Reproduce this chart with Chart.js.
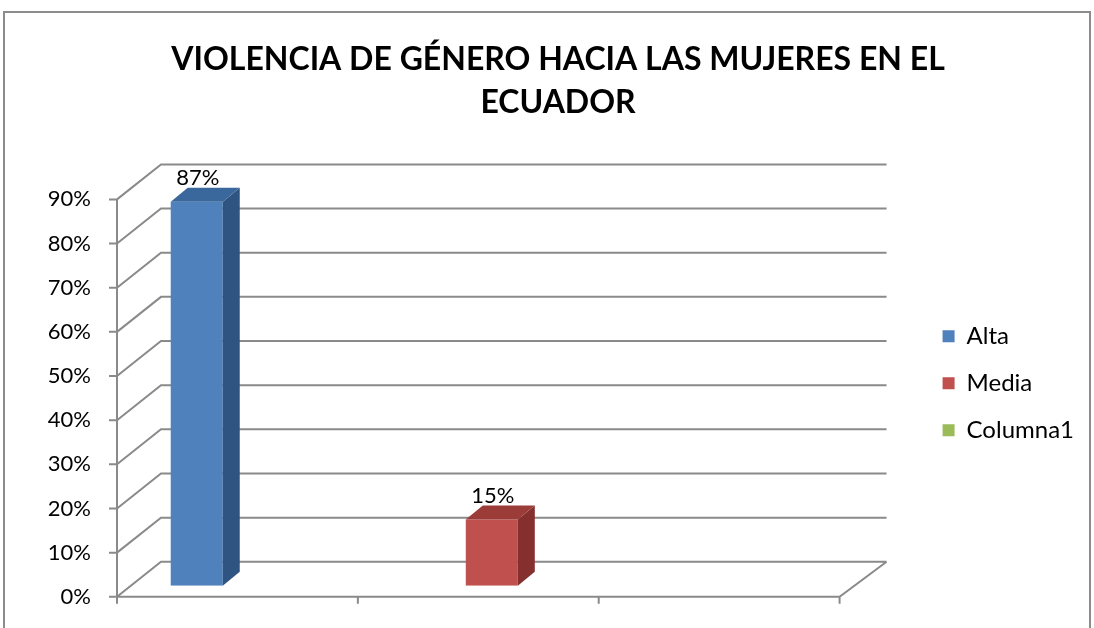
<!DOCTYPE html>
<html>
<head>
<meta charset="utf-8">
<script src="https://cdn.jsdelivr.net/npm/chart.js@4.4.1/dist/chart.umd.min.js"></script>
<style>
  html, body { margin: 0; padding: 0; background: #fff; }
  #wrap { width: 1094px; height: 628px; }
</style>
</head>
<body>
<div id="wrap"><canvas id="violenciaChart" width="1094" height="628"></canvas></div>
<script>
const categories = ['', '', ''];
const alta = [87, null, null];
const media = [null, 15, null];
const columna1 = [null, null, null];
const yTicks = [0, 10, 20, 30, 40, 50, 60, 70, 80, 90];

const FONT = 'Lato, "Noto Sans", sans-serif';
const GRID = '#8a8a8a';
// depth of the 3D box (back wall) and of the bars
const WALL = { dx: 44, dy: -35 };
const BAR_SHIFT = { dx: 13.5, dy: -11 };
const BAR_DEPTH = { dx: 17, dy: -14 };

const shades = {
  Alta: { side: '#2f5481', top: '#3b689c' },
  Media: { side: '#85302e', top: '#9c3c39' },
  Columna1: { side: '#6f8a3c', top: '#849f4a' }
};

const frame3d = {
  id: 'frame3d',
  beforeDraw(chart) {
    const c = chart.ctx;
    c.save();
    c.strokeStyle = '#8c8c8c';
    c.lineWidth = 2;
    c.strokeRect(4, 12, 1086, 700);
    c.restore();
  },
  beforeDatasetsDraw(chart) {
    const c = chart.ctx;
    const { left, right } = chart.chartArea;
    const y = chart.scales.y;
    const bottom = y.getPixelForValue(0);
    c.save();
    c.strokeStyle = GRID;
    c.lineWidth = 2;
    c.beginPath();
    yTicks.forEach(v => {
      const py = y.getPixelForValue(v);
      c.moveTo(left, py);
      c.lineTo(left + WALL.dx, py + WALL.dy);
      c.lineTo(right + WALL.dx + 3, py + WALL.dy);
      c.moveTo(left - 8, py);
      c.lineTo(left, py);
    });
    // front axis, floor edge, right floor diagonal
    c.moveTo(left, y.getPixelForValue(90));
    c.lineTo(left, bottom + 7);
    c.moveTo(left, bottom);
    c.lineTo(right, bottom);
    c.lineTo(right + WALL.dx + 3, bottom + WALL.dy);
    // category tick marks
    for (let i = 1; i <= categories.length; i++) {
      const px = left + (right - left) * i / categories.length;
      c.moveTo(px, bottom);
      c.lineTo(px, bottom + 7);
    }
    c.stroke();
    c.restore();
    c.save();
    c.translate(BAR_SHIFT.dx, BAR_SHIFT.dy);
  },
  afterDatasetsDraw(chart) {
    const c = chart.ctx;
    chart.data.datasets.forEach((ds, i) => {
      const meta = chart.getDatasetMeta(i);
      if (meta.hidden) return;
      meta.data.forEach((bar, j) => {
        if (ds.data[j] == null) return;
        const p = bar.getProps(['x', 'y', 'base', 'width'], true);
        const l = p.x - p.width / 2, r = p.x + p.width / 2;
        const sh = shades[ds.label];
        c.fillStyle = sh.side;
        c.beginPath();
        c.moveTo(r, p.y);
        c.lineTo(r + BAR_DEPTH.dx, p.y + BAR_DEPTH.dy);
        c.lineTo(r + BAR_DEPTH.dx, p.base + BAR_DEPTH.dy);
        c.lineTo(r, p.base);
        c.closePath();
        c.fill();
        c.fillStyle = sh.top;
        c.beginPath();
        c.moveTo(l, p.y);
        c.lineTo(l + BAR_DEPTH.dx, p.y + BAR_DEPTH.dy);
        c.lineTo(r + BAR_DEPTH.dx, p.y + BAR_DEPTH.dy);
        c.lineTo(r, p.y);
        c.closePath();
        c.fill();
        c.fillStyle = '#000';
        c.font = '22px ' + FONT;
        c.textAlign = 'center';
        c.textBaseline = 'middle';
        c.fillText(ds.data[j] + '%', p.x + 1, p.y - 24);
      });
    });
    c.restore();
  }
};

const barDefaults = { categoryPercentage: 0.675, barPercentage: 0.96 };

new Chart(document.getElementById('violenciaChart'), {
  type: 'bar',
  data: {
    labels: categories,
    datasets: [
      { label: 'Alta', data: alta, backgroundColor: '#4f81bd', ...barDefaults },
      { label: 'Media', data: media, backgroundColor: '#c0504d', ...barDefaults },
      { label: 'Columna1', data: columna1, backgroundColor: '#9bbb59', ...barDefaults }
    ]
  },
  options: {
    responsive: false,
    animation: false,
    layout: { padding: { top: 8, left: 32, right: 10, bottom: 0 } },
    scales: {
      x: {
        grid: { display: false },
        border: { display: false },
        ticks: { display: false },
        afterFit(scale) { scale.height = 30; }
      },
      y: {
        min: 0,
        max: 90,
        grid: { display: false },
        border: { display: false },
        ticks: {
          stepSize: 10,
          color: '#000',
          font: { family: FONT, size: 22 },
          padding: 18,
          callback: v => v + '%'
        },
        afterFit(scale) { scale.width = 117 - 32; }
      },
      // empty spacer between the plot and the legend (room for the 3D depth)
      spacer: {
        position: 'right',
        grid: { display: false },
        border: { display: false },
        ticks: { display: false },
        afterFit(scale) { scale.width = 80; }
      }
    },
    plugins: {
      title: {
        display: true,
        text: ['VIOLENCIA DE GÉNERO HACIA LAS MUJERES EN EL', 'ECUADOR'],
        color: '#000',
        font: { family: FONT, size: 32, weight: 'bold', lineHeight: 1.35 },
        padding: { top: 30, bottom: 75 }
      },
      legend: {
        position: 'right',
        title: { display: true, text: ' ', padding: { top: 58, bottom: 58 } },
        labels: {
          color: '#000',
          font: { family: FONT, size: 24 },
          boxWidth: 12,
          boxHeight: 12,
          padding: 23
        }
      },
      tooltip: { enabled: false }
    }
  },
  plugins: [frame3d]
});
</script>
</body>
</html>
